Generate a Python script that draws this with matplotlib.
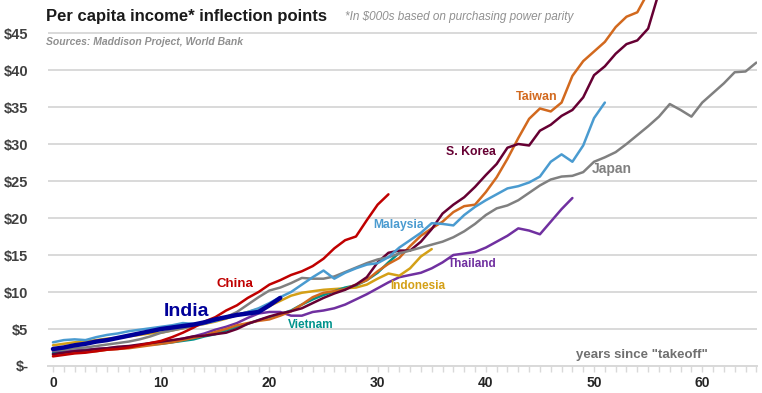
import matplotlib
matplotlib.use("Agg")
import matplotlib.pyplot as plt
from matplotlib.ticker import MultipleLocator, FuncFormatter

plt.rcParams['font.family'] = ['Liberation Sans', 'DejaVu Sans']

# income per capita, $000s PPP, by years since "takeoff"
china = [1.3, 1.5, 1.7, 1.8, 2.0, 2.2, 2.3, 2.5, 2.8, 3.1, 3.4, 3.9, 4.5, 5.2, 6.0, 6.6,
         7.5, 8.2, 9.2, 10.0, 11.0, 11.6, 12.3, 12.8, 13.5, 14.5, 15.9, 17.0, 17.5, 19.7,
         21.8, 23.2]
india = [2.3, 2.5, 2.8, 3.0, 3.3, 3.5, 3.8, 4.1, 4.4, 4.7, 5.0, 5.2, 5.4, 5.6, 5.9, 6.3,
         6.6, 6.9, 7.1, 7.3, 8.2, 9.2]
malaysia = [3.2, 3.5, 3.6, 3.5, 3.9, 4.2, 4.4, 4.7, 4.9, 5.1, 5.3, 5.5, 5.8, 5.7, 5.8, 6.1,
            6.5, 6.9, 7.3, 7.8, 8.5, 9.3, 10.0, 11.0, 12.0, 12.9, 11.8, 12.6, 13.2, 13.7,
            13.9, 14.7, 16.0, 17.0, 18.0, 19.3, 19.2, 19.0, 20.4, 21.5, 22.4, 23.2, 24.0,
            24.3, 24.8, 25.6, 27.6, 28.6, 27.6, 29.8, 33.5, 35.6]
japan = [2.1, 2.2, 2.4, 2.5, 2.7, 2.9, 3.1, 3.3, 3.6, 4.0, 4.5, 4.8, 5.1, 5.4, 5.7, 6.1,
         6.6, 7.3, 8.3, 9.3, 10.2, 10.6, 11.2, 11.9, 11.8, 11.8, 12.1, 12.7, 13.3, 13.9,
         14.4, 14.7, 15.2, 15.6, 16.0, 16.4, 16.8, 17.4, 18.2, 19.2, 20.4, 21.3, 21.7,
         22.4, 23.4, 24.4, 25.2, 25.6, 25.7, 26.2, 27.6, 28.2, 28.9, 30.0, 31.2, 32.4,
         33.7, 35.4, 34.6, 33.7, 35.6, 36.9, 38.2, 39.7, 39.8, 41.0]
skorea = [1.6, 1.8, 2.0, 2.1, 2.3, 2.4, 2.6, 2.7, 2.9, 3.1, 3.3, 3.5, 3.7, 4.0, 4.1, 4.3,
          4.5, 5.0, 5.7, 6.2, 6.7, 7.1, 7.4, 7.8, 8.5, 9.2, 9.8, 10.3, 11.0, 12.0, 14.0,
          15.3, 15.6, 15.6, 16.8, 18.5, 20.6, 21.8, 22.8, 24.2, 25.8, 27.3, 29.5, 30.0,
          29.8, 31.8, 32.6, 33.8, 34.6, 36.3, 39.3, 40.5, 42.2, 43.5, 44.0, 45.6, 50.5]
taiwan = [1.5, 1.6, 1.8, 1.9, 2.0, 2.2, 2.3, 2.4, 2.6, 2.8, 3.0, 3.2, 3.5, 3.8, 4.1, 4.6,
          5.0, 5.5, 5.8, 6.1, 6.3, 6.8, 7.4, 8.3, 9.3, 9.9, 10.1, 10.4, 11.0, 11.6, 12.8,
          13.8, 14.6, 16.2, 17.6, 18.6, 19.5, 20.8, 21.6, 21.8, 23.5, 25.5, 28.0, 30.8,
          33.4, 34.8, 34.4, 35.6, 39.2, 41.2, 42.5, 43.8, 45.8, 47.2, 47.8, 50.5]
thailand = [1.9, 2.0, 2.1, 2.2, 2.3, 2.4, 2.5, 2.6, 2.8, 3.0, 3.2, 3.4, 3.7, 4.0, 4.4, 4.9,
            5.3, 5.8, 6.5, 7.1, 7.3, 7.3, 6.8, 6.8, 7.3, 7.5, 7.8, 8.3, 9.0, 9.7, 10.5,
            11.3, 12.0, 12.3, 12.6, 13.2, 14.0, 15.0, 15.2, 15.4, 16.0, 16.8, 17.6, 18.6,
            18.3, 17.8, 19.5, 21.2, 22.7]
indonesia = [2.8, 3.0, 3.2, 3.3, 3.5, 3.7, 3.8, 4.0, 4.2, 4.4, 4.5, 4.8, 5.1, 5.4, 5.7,
             6.0, 6.4, 6.9, 7.3, 7.7, 8.1, 8.8, 9.5, 9.9, 10.1, 10.3, 10.4, 10.5, 10.6,
             11.0, 11.8, 12.5, 12.2, 13.2, 14.8, 15.8]
vietnam = [1.7, 1.8, 1.9, 2.1, 2.2, 2.3, 2.5, 2.6, 2.8, 2.9, 3.0, 3.2, 3.4, 3.6, 4.0, 4.3,
           4.8, 5.3, 5.7, 6.2, 6.6, 7.0, 7.5, 8.3, 9.0, 9.6, 10.1, 10.6, 10.9, 11.6, 12.6,
           14.0, 15.3]

# (name, data, colour, width, label x, label y, label size)
series = [
    ("Thailand", thailand, "#7030A0", 1.8, 38.7, 13.8, 8.5),
    ("Indonesia", indonesia, "#D4A017", 1.8, 33.7, 10.8, 8.5),
    ("Vietnam", vietnam, "#00938C", 1.8, 23.8, 5.5, 8.5),
    ("Taiwan", taiwan, "#D2691E", 1.8, 44.7, 36.4, 9),
    ("S. Korea", skorea, "#660033", 1.8, 38.6, 28.9, 8.8),
    ("Japan", japan, "#808080", 1.8, 51.6, 26.6, 10),
    ("Malaysia", malaysia, "#4A9BD0", 1.8, 31.9, 19.1, 8.7),
    ("China", china, "#C00000", 1.8, 16.8, 11.1, 9.5),
    ("India", india, "#000099", 3.2, 12.3, 7.4, 14),
]

fig = plt.figure(figsize=(7.62, 3.93), dpi=100)
ax = fig.add_axes([48 / 762, 27 / 393, 709 / 762, 366 / 393])

for name, vals, col, lw, lx, ly, fs in series:
    ax.plot(range(len(vals)), vals, color=col, lw=lw, solid_capstyle='round',
            solid_joinstyle='round', zorder=3)
    ax.text(lx, ly, name, color=col, fontsize=fs, fontweight='bold', ha='center', va='center')

ax.set_xlim(-0.46, 65.06)
ax.set_ylim(0, 49.46)
ax.set_yticks(range(0, 50, 5))
ax.yaxis.set_major_formatter(FuncFormatter(lambda v, p: "$-" if v == 0 else f"${int(v)}"))
ax.xaxis.set_major_locator(MultipleLocator(10))
ax.xaxis.set_minor_locator(MultipleLocator(1))
ax.grid(axis='y', color='#D9D9D9', lw=1.4, zorder=0)
for s in ['top', 'right', 'left']:
    ax.spines[s].set_visible(False)
ax.spines['bottom'].set_color('#D9D9D9')
ax.spines['bottom'].set_linewidth(1.4)
ax.tick_params(axis='y', length=0, pad=14, labelsize=10.5, labelcolor='#404040')
ax.tick_params(axis='x', which='both', length=4, color='#D9D9D9', width=1, pad=3,
               labelsize=10, labelcolor='#262626')
for t in ax.get_xticklabels() + ax.get_yticklabels():
    t.set_fontweight('bold')

ax.text(54.4, 1.5, 'years since "takeoff"', color='#707070', fontsize=9.5,
        fontweight='bold', ha='center', va='center')

fig.text(46 / 762, 1 - 16 / 393, "Per capita income* inflection points", fontsize=12,
         fontweight='bold', color='#1a1a1a', va='center')
fig.text(345 / 762, 1 - 17 / 393, "*In $000s based on purchasing power parity", fontsize=8.5,
         style='italic', color='#909090', va='center')
fig.text(46 / 762, 1 - 42 / 393, "Sources: Maddison Project, World Bank", fontsize=7.5,
         style='italic', fontweight='bold', color='#909090', va='center')

fig.savefig("out.png", dpi=100)
